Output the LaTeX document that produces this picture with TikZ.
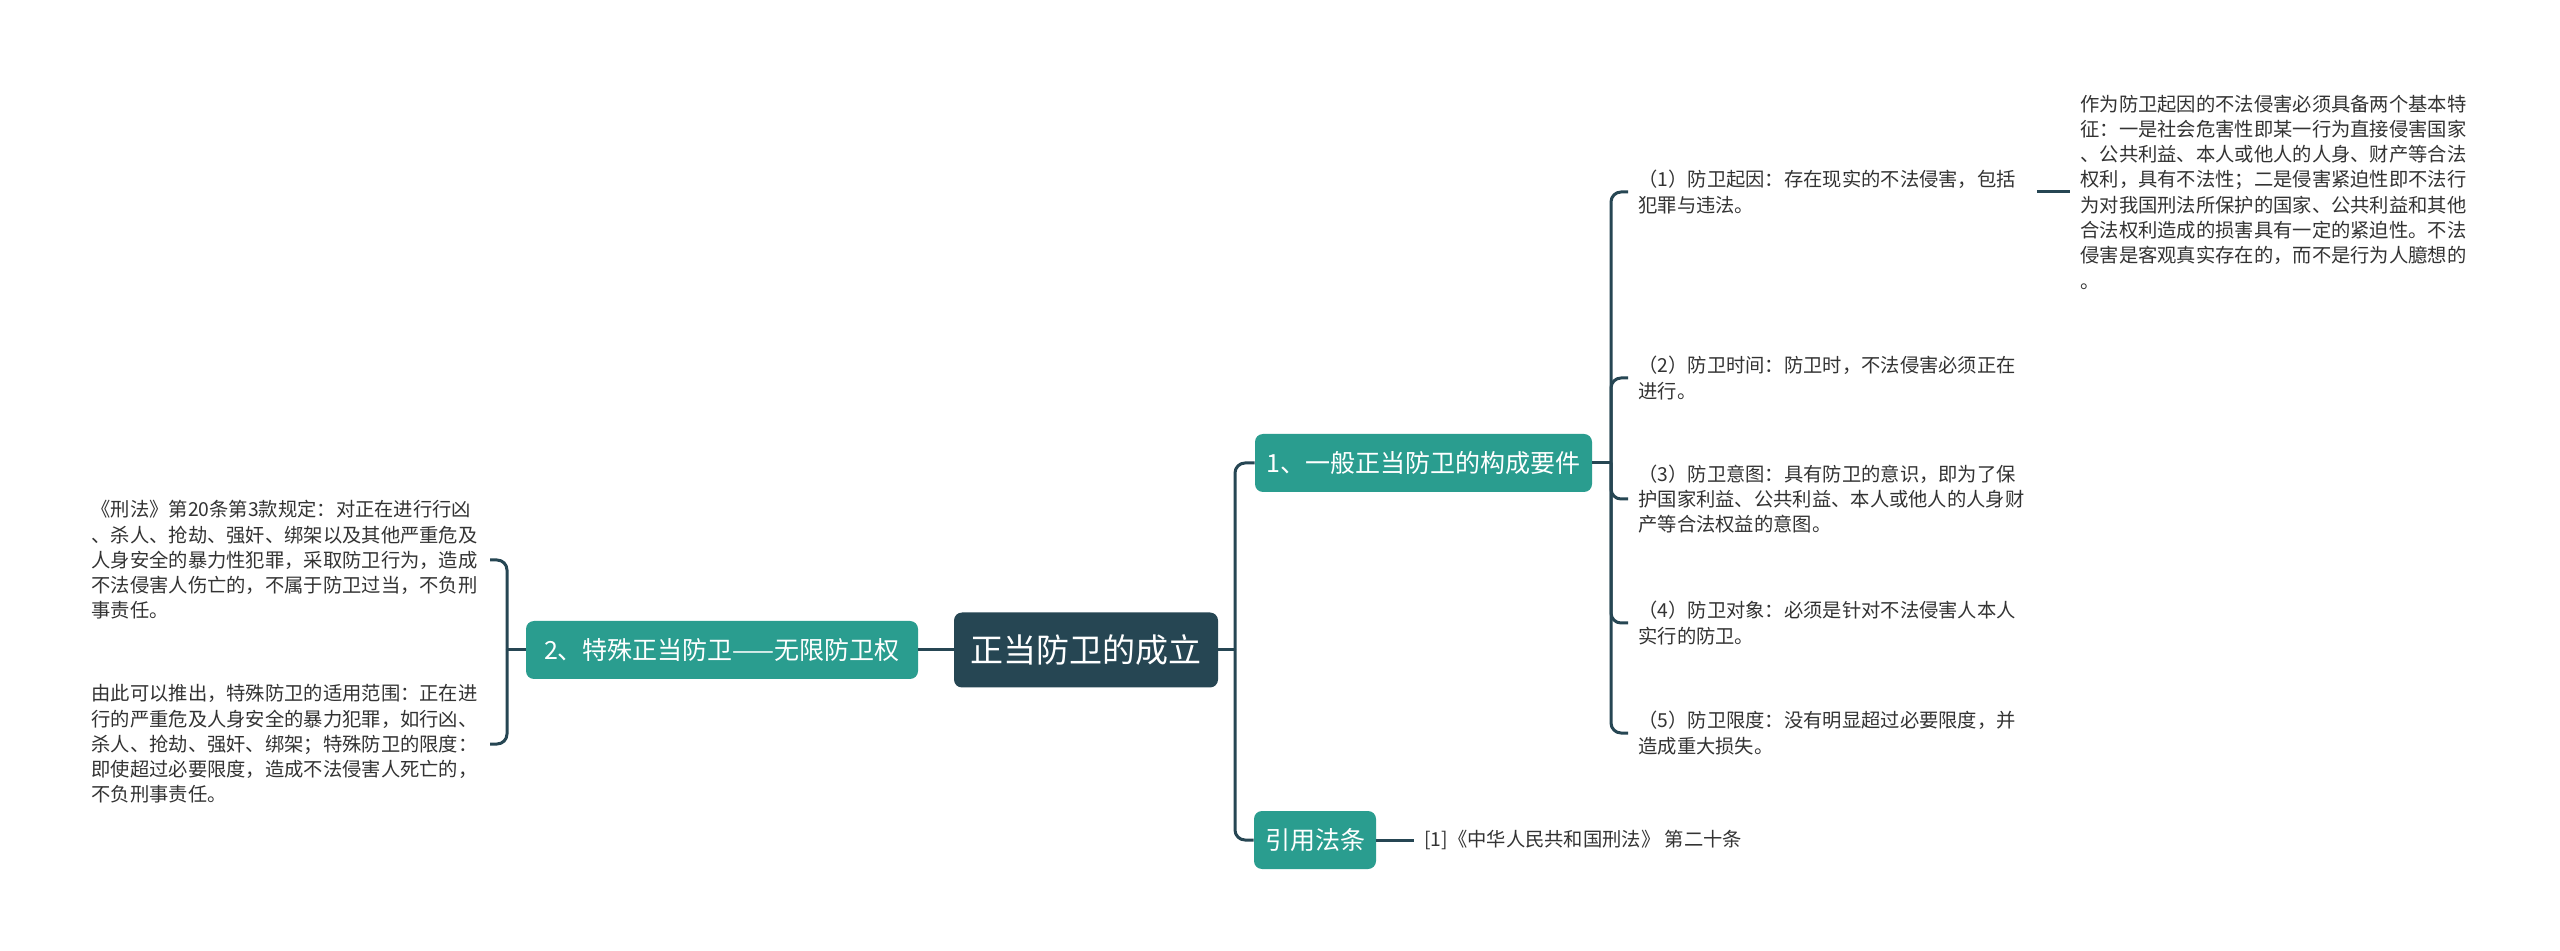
\documentclass[tikz,border=0pt]{standalone}
\usepackage{fontspec}
\setmainfont{Noto Sans CJK SC}
\definecolor{rootc}{HTML}{264653}
\definecolor{tealc}{HTML}{2A9D8F}
\definecolor{linec}{HTML}{264653}
\definecolor{txt}{HTML}{333333}
\begin{document}
\begin{tikzpicture}[x=0.5pt,y=-0.5pt,
  conn/.style={draw=linec,line width=1.5pt,rounded corners=5pt},
  rootbox/.style={fill=rootc,rounded corners=4pt,text=white,font=\fontsize{16.5pt}{20pt}\selectfont,minimum width=132pt,minimum height=37.5pt,inner sep=0pt},
  branch/.style={fill=tealc,rounded corners=4pt,text=white,font=\fontsize{12.5pt}{15pt}\selectfont,minimum height=29pt,inner sep=0pt},
  leaftext/.style={text=txt,font=\fontsize{9.65pt}{12.65pt}\selectfont,align=left,text width=194pt,inner xsep=5pt,inner ysep=2pt},
  reftext/.style={text=txt,font=\fontsize{9.65pt}{12.65pt}\selectfont,inner xsep=5pt}
]
\fill[white] (0,0) rectangle (2560,951);
\useasboundingbox (0,0) rectangle (2560,951);

\node[rootbox] (root) at (1086,650) {正当防卫的成立};
\node[branch,minimum width=196pt] (b2) at (722,650) {2、特殊正当防卫——无限防卫权};
\node[branch,minimum width=168.5pt] (b1) at (1423.5,463) {1、一般正当防卫的构成要件};
\node[branch,minimum width=61pt] (b3) at (1315,840) {引用法条};

\node[leaftext,anchor=west] (c1) at (1628,192) {（1）防卫起因：存在现实的不法侵害，包括\\犯罪与违法。};
\node[leaftext,anchor=west] (c2) at (1628,378) {（2）防卫时间：防卫时，不法侵害必须正在\\进行。};
\node[leaftext,anchor=west] (c3) at (1628,499) {（3）防卫意图：具有防卫的意识，即为了保\\护国家利益、公共利益、本人或他人的人身财\\产等合法权益的意图。};
\node[leaftext,anchor=west] (c4) at (1628,623) {（4）防卫对象：必须是针对不法侵害人本人\\实行的防卫。};
\node[leaftext,anchor=west] (c5) at (1628,733) {（5）防卫限度：没有明显超过必要限度，并\\造成重大损失。};

\node[leaftext,anchor=west] (d1) at (2070,192) {作为防卫起因的不法侵害必须具备两个基本特\\征：一是社会危害性即某一行为直接侵害国家\\、公共利益、本人或他人的人身、财产等合法\\权利，具有不法性；二是侵害紧迫性即不法行\\为对我国刑法所保护的国家、公共利益和其他\\合法权利造成的损害具有一定的紧迫性。不法\\侵害是客观真实存在的，而不是行为人臆想的\\。};

\node[leaftext,anchor=east] (l1) at (490,560) {《刑法》第20条第3款规定：对正在进行行凶\\、杀人、抢劫、强奸、绑架以及其他严重危及\\人身安全的暴力性犯罪，采取防卫行为，造成\\不法侵害人伤亡的，不属于防卫过当，不负刑\\事责任。};
\node[leaftext,anchor=east] (l2) at (490,744) {由此可以推出，特殊防卫的适用范围：正在进\\行的严重危及人身安全的暴力犯罪，如行凶、\\杀人、抢劫、强奸、绑架；特殊防卫的限度：\\即使超过必要限度，造成不法侵害人死亡的，\\不负刑事责任。};

\node[reftext,anchor=west] (r1) at (1414,840) {[1]《中华人民共和国刑法》 第二十条};

\coordinate (jt) at (1235,650);
\coordinate (j1) at (1611,463);
\coordinate (jl) at (507,650);

\draw[conn] (root.west) -- (b2.east);
\draw[conn] (root.east) -- (jt);
\draw[conn] (jt) |- (b1.west);
\draw[conn] (jt) |- (b3.west);
\draw[conn] (b1.east) -- (j1);
\foreach \nn in {c1,c2,c3,c4,c5} \draw[conn] (j1) |- (\nn.west);
\draw[conn] (c1.east) -- (c1.east -| d1.west);
\draw[conn] (b3.east) -- (r1.west);
\draw[conn] (b2.west) -- (jl);
\draw[conn] (jl) |- (l1.east);
\draw[conn] (jl) |- (l2.east);
\end{tikzpicture}
\end{document}
